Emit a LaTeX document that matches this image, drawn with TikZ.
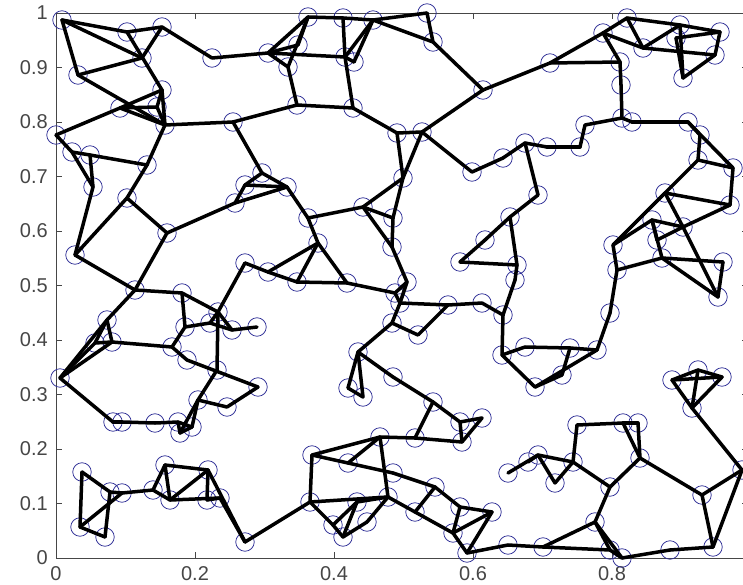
\documentclass[tikz,border=0pt]{standalone}
\usepackage{fontspec}
\setmainfont{Liberation Sans}
\definecolor{vblue}{RGB}{45,45,150}
\definecolor{axgray}{RGB}{70,70,70}
\begin{document}
\begin{tikzpicture}[x=1pt,y=-1pt,
  v/.style={circle,draw=vblue,line width=0.75pt,minimum size=18.5pt,inner sep=0pt},
  e/.style={line width=3.5pt,black,line cap=round,line join=round},
  ax/.style={draw=axgray,line width=0.9pt},
  tk/.style={font=\fontsize{20}{22}\selectfont,text=axgray,inner sep=0pt}]
\useasboundingbox[fill=white] (0,0) rectangle (743,585);
% axes box
\draw[ax] (56,13) -- (760,13);
\draw[ax] (56,13) -- (56,558) -- (760,558);
\draw[ax] (749,13) -- (749,558);
\foreach \k in {1,...,4} {
  \draw[ax] ({56+139*\k},558) -- ++(0,-6);
  \draw[ax] ({56+139*\k},13) -- ++(0,6);
}
\foreach \k in {1,...,9} {
  \draw[ax] (56,{558-54.5*\k}) -- ++(6,0);
  \draw[ax] (749,{558-54.5*\k}) -- ++(-7,0);
}
\foreach \k/\t in {0/0,1/0.1,2/0.2,3/0.3,4/0.4,5/0.5,6/0.6,7/0.7,8/0.8,9/0.9,10/1}
  \node[tk,anchor=east] (yl\k) at (48,{558-54.5*\k}) {\t};
\foreach \k/\t in {0/0,1/0.2,2/0.4,3/0.6,4/0.8}
  \node[tk,anchor=north] (xl\k) at ({56+139*\k},566) {\t};
% vertices
\foreach \n/\x/\y in {
 a1/62/20,a2/127/32,a3/162/27,a4/142/58,a5/212/58,a6/78/75,a7/162/90,a8/120/108,a9/157/107,
 a10/165/125,a11/233/122,a12/56/135,a13/72/152,a14/90/155,a15/147/165,a16/93/187,a17/127/198,
 b1/308/17,b2/343/18,b3/373/20,b4/427/13,b5/433/42,b6/268/53,b7/298/45,b8/288/67,b9/345/57,
 b10/354/62,b11/483/90,b12/297/105,b13/353/108,b14/397/133,b15/422/132,b16/472/172,b17/403/178,
 b18/262/173,b19/287/187,j1/245/185,
 c1/627/18,c2/603/33,c3/643/48,c4/680/25,c5/676/38,c6/720/32,c7/715/55,c8/683/78,c9/550/63,
 c10/620/62,c11/621/85,c12/622/118,c13/632/122,c14/585/125,c15/580/147,c16/688/122,c17/700/135,
 c18/698/160,c19/733/168,c20/547/147,c21/525/143,c22/503/158,c23/538/195,c24/665/193,
 d1/75/255,d3/167/233,d4/235/203,d5/245/263,d6/135/290,d7/182/293,d8/107/320,d9/95/343,
 d10/112/342,d11/60/378,d12/185/327,d13/172/347,d14/187/360,d15/218/312,d16/210/323,d17/232/330,
 d19/217/370,
 e1/308/218,e2/318/243,e3/363/207,e4/393/218,e5/392/247,e7/268/272,e8/297/282,e9/347/283,
 e10/407/282,e11/395/293,e12/400/303,e13/392/323,e14/418/335,e15/448/305,e16/482/303,e17/485/240,
 e18/460/262,e19/257/327,e20/358/352,e21/393/377,e22/348/388,e23/258/387,e24/363/397,
 f2/510/217,f3/517/265,f4/515/280,f5/503/315,f6/502/355,f7/525/347,f8/570/348,f9/597/350,
 f10/562/375,f11/535/387,f12/610/313,f13/617/270,f14/613/245,f15/652/220,f17/683/227,f18/662/258,
 f19/657/240,f20/730/205,f21/723/262,f22/718/297,f23/672/380,f24/698/370,f25/722/377,f26/692/408,
 g1/113/422,g2/122/422,g3/155/423,g4/178/422,g5/180/433,g6/192/427,g7/198/400,g8/227/407,
 g9/82/472,g10/80/527,g11/105/537,g12/110/492,g13/122/493,g14/153/490,g15/165/465,g16/170/500,
 g17/208/470,g18/207/500,g19/220/498,g20/245/542,
 h1/312/455,h2/310/502,h3/333/525,h4/343/537,h5/357/502,h6/367/522,h7/348/463,h8/380/437,
 h9/393/473,h10/388/497,h11/415/438,h12/433/402,h13/435/487,h14/415/512,h15/460/422,h16/482/418,
 h17/462/442,h18/460/507,h19/453/533,h20/492/512,h21/467/553,
 i2/577/425,i3/623/423,i4/638/423,i5/640/458,i6/573/462,i7/538/455,i8/528/462,i9/555/483,
 i10/508/473,i11/610/487,i12/595/522,i13/702/495,i14/742/470,i15/713/547,i16/670/550,i17/622/558,
 i18/610/550,i19/543/547,i20/508/545}
 \node[v] (\n) at (\x,\y) {};
% edges
\foreach \p/\q in {
 a1/a2,a2/a3,a1/a4,a1/a6,a3/a4,a3/a5,a2/a7,a7/a10,a4/a6,a6/a10,a12/a8,a8/a7,a8/a10,a8/a9,a9/a10,
 a7/a9,a10/a11,a10/a15,a15/a17,a12/a13,a13/a14,a14/a15,a13/a16,a14/a16,a5/b6,a11/b12,a11/b18,
 a16/d1,a17/d1,a17/d3,
 b1/b2,b2/b3,b3/b4,b1/b6,b1/b8,b1/b7,b6/b7,b6/b9,b6/b8,b2/b9,b3/b9,b3/b10,b9/b10,b3/b5,b4/b5,
 b5/b11,b8/b12,b12/b13,b9/b13,b13/b14,b14/b15,b11/b15,b15/b16,b14/b17,b15/b17,b11/c9,b16/c22,
 b18/j1,b18/b19,j1/b19,d4/j1,d4/b19,b19/e1,e1/e3,e3/e4,e3/e5,e4/b17,e3/b17,e4/e5,e1/e2,
 c9/c2,c2/c1,c9/c10,c2/c10,c1/c3,c1/c4,c3/c4,c2/c3,c3/c7,c4/c8,c8/c7,c4/c6,c6/c7,c5/c6,c5/c8,
 c10/c11,c11/c12,c12/c13,c12/c14,c14/c15,c15/c20,c20/c21,c21/c22,c21/c23,c13/c16,c16/c17,
 c17/c18,c16/c19,c18/c19,c18/c24,c19/f20,c24/f20,c24/f17,c24/f14,c23/f2,f2/e17,f2/f3,
 d1/d6,d3/d6,d6/d8,d8/d9,d8/d10,d9/d10,d9/d11,d10/d11,d8/d11,d6/d7,d7/d12,d12/d13,d13/d14,d10/d13,
 d7/d15,d12/d16,d15/d16,d16/d17,d15/d17,d17/e19,d3/d4,d5/d15,d14/e23,d15/d19,d19/g7,d11/g1,
 d5/e7,e7/e8,e8/e9,e9/e11,e2/e7,e2/e8,e2/e9,e5/e10,e10/e11,e11/e12,e10/e12,e12/e15,e15/e16,
 e12/e13,e13/e14,e14/e15,e13/e20,e20/e22,e20/e21,e22/e24,e20/e24,e21/h12,e17/e18,e18/f3,e16/f5,
 f3/f4,f4/f5,f5/f6,f6/f7,f7/f8,f8/f9,f6/f11,f11/f9,f8/f10,f10/f11,f9/f12,f12/f13,f13/f14,
 f14/c24,f13/f18,f18/f21,f14/f15,f15/f17,f15/f18,f17/f20,f17/f22,f18/f22,f21/f22,f19/f15,
 f19/f17,f23/f24,f24/f25,f23/f25,f23/f26,f25/f26,f24/f26,f26/i14,
 g1/g2,g2/g3,g3/g4,g4/g5,g4/g6,g5/g6,g6/g7,g7/g8,g5/g7,g9/g10,g9/g12,g10/g11,g11/g12,g10/g13,
 g12/g13,g13/g14,g14/g15,g15/g17,g15/g16,g16/g17,g16/g19,g17/g18,g18/g19,g19/g20,g17/g20,
 g14/g16,g8/e23,
 g20/h2,h1/h2,h1/h8,h1/h7,h7/h9,h9/h13,h7/h8,h8/h11,h11/h17,h8/h10,h2/h10,h2/h3,h3/h4,h4/h5,
 h4/h6,h3/h5,h5/h10,h6/h10,h10/h19,h12/h11,h12/h15,h15/h16,h16/h17,h15/h17,h13/h14,h13/h18,
 h18/h19,h18/h20,h19/h21,h20/h21,h19/h20,h21/i20,
 i2/i3,i3/i4,i2/i6,i4/i5,i3/i5,i5/i11,i5/i13,i13/i14,i13/i15,i14/i15,i11/i12,i6/i11,i10/i7,
 i7/i6,i7/i9,i9/i6,i8/i7,i12/i19,i12/i17,i12/i18,i20/i19,i19/i18,i18/i17,i17/i16,i16/i15}
 \draw[e] (\p.center) -- (\q.center);
\end{tikzpicture}
\end{document}
